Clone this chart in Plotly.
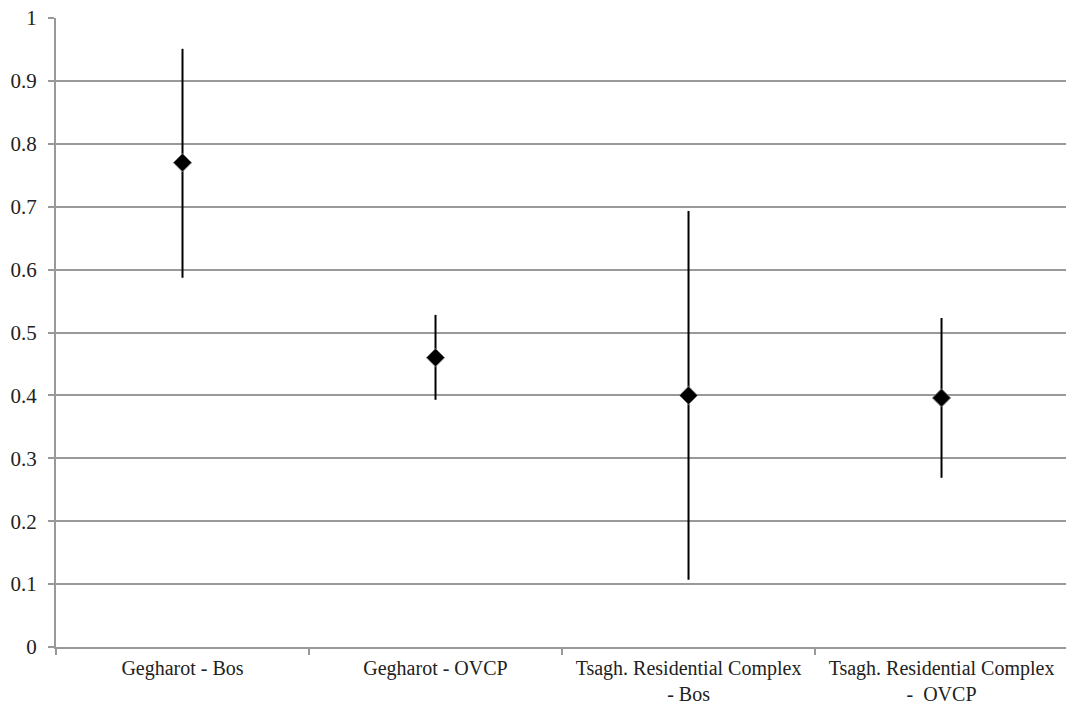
import plotly.graph_objects as go

categories = ["Gegharot - Bos", "Gegharot - OVCP",
              "Tsagh. Residential Complex<br>- Bos",
              "Tsagh. Residential Complex<br>-  OVCP"]
means = [0.770, 0.460, 0.400, 0.396]
upper = [0.951, 0.528, 0.693, 0.523]
lower = [0.587, 0.393, 0.107, 0.269]
y_ticks = [0, 0.1, 0.2, 0.3, 0.4, 0.5, 0.6, 0.7, 0.8, 0.9, 1]
y_tick_text = ["0", "0.1", "0.2", "0.3", "0.4", "0.5", "0.6", "0.7", "0.8", "0.9", "1"]

err_plus = [u - m for u, m in zip(upper, means)]
err_minus = [m - l for m, l in zip(means, lower)]

font_family = "Liberation Serif"

fig = go.Figure()
fig.add_trace(go.Scatter(
    x=categories, y=means, mode="markers",
    marker=dict(symbol="diamond", size=14, color="black",
                line=dict(color="#808080", width=1)),
    error_y=dict(type="data", symmetric=False, array=err_plus,
                 arrayminus=err_minus, color="black", thickness=2, width=0),
    showlegend=False,
))

fig.update_layout(
    width=1066, height=706,
    margin=dict(l=56, r=0, t=18, b=59),
    plot_bgcolor="white", paper_bgcolor="white",
    font=dict(family=font_family, size=20, color="#222222"),
)
fig.update_xaxes(
    type="category", range=[-0.5, 3.492],
    showline=True, linecolor="#999999", linewidth=2,
    ticks="outside", tickson="boundaries", ticklen=6, tickwidth=2, tickcolor="#999999",
    showgrid=False, tickfont=dict(size=20, family=font_family),
    ticklabelstandoff=2,
)
fig.update_yaxes(
    range=[0, 1], tickvals=y_ticks, ticktext=y_tick_text,
    showline=True, linecolor="#999999", linewidth=2,
    ticks="outside", ticklen=6, tickwidth=2, tickcolor="#999999",
    showgrid=True, gridcolor="#999999", gridwidth=2, zeroline=False,
    tickfont=dict(size=21, family=font_family),
    ticklabelstandoff=7,
)

fig.write_html("out.html")
